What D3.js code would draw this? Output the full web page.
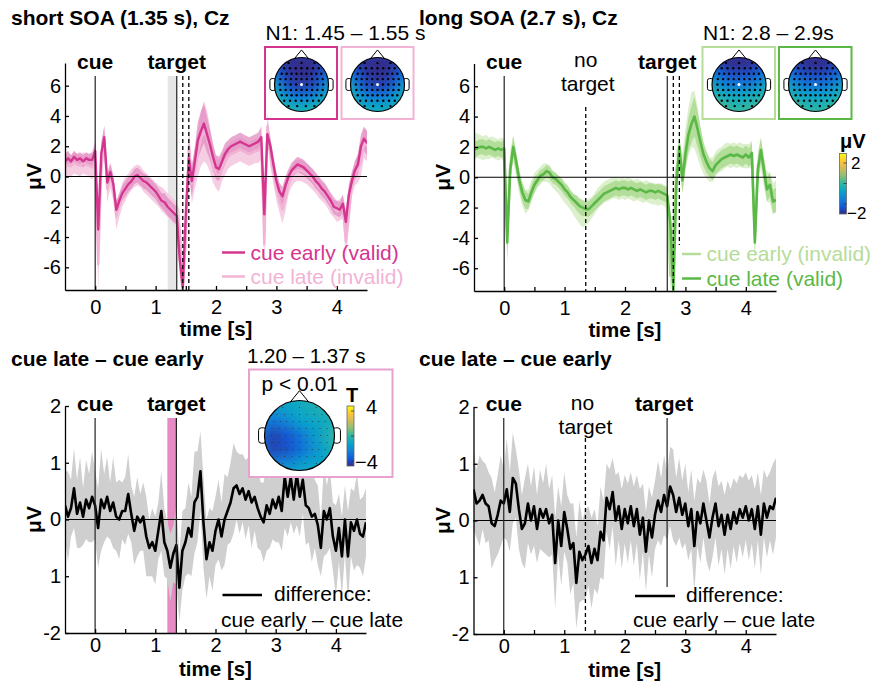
<!DOCTYPE html>
<html>
<head>
<meta charset="utf-8">
<script src="https://d3js.org/d3.v7.min.js"></script>
<style>
  body { margin: 0; background: #fff; }
  svg { display: block; font-family: "Liberation Sans", Arial, Helvetica, sans-serif; }
</style>
</head>
<body>
<svg id="fig" width="873" height="682"></svg>
<script>
// ---- data (sampled every 50 ms from -0.5 s to 4.5 s) ----
const tStart = -0.5
const tStep = 0.05
const times = d3.range(101).map(i => +(tStart + i * tStep).toFixed(2))

// short SOA, Cz (µV)
const shortEarly = [
  1.0, 1.2, 1.0, 1.3, 1.1, 1.2, 1.0, 1.2, 1.1, 1.1,
  1.7, -3.5, 1.5, 2.6, -0.4, 0.3, -0.5, -2.2, -1.6, -1.1,
  -0.8, -0.5, -0.3, 0.0, 0.1, -0.1, -0.3, -0.4, -0.6, -0.8,
  -1.0, -1.3, -1.6, -1.7, -2.0, -2.2, -2.4, -2.6, -5.5, -7.3,
  -2.5, 1.2, -0.3, 1.0, 2.4, 3.0, 3.5, 2.8, 2.1, 1.3,
  0.6, 0.5, 1.0, 1.5, 1.8, 2.0, 2.1, 2.2, 2.3, 2.2,
  2.1, 2.0, 2.1, 2.2, 2.3, 2.6, -2.5, 2.8, 2.0, 0.8,
  -0.3, -1.0, -1.3, -0.6, 0.0, 0.4, 0.6, 0.8, 0.7, 0.6,
  0.4, 0.2, 0.0, -0.3, -0.5, -0.8, -1.0, -1.3, -1.6, -2.0,
  -2.1, -2.2, -1.8, -3.0, -1.2, -0.3, 0.4, 0.8, 2.0, 2.5,
  2.2
]
const shortEarlyCI = [
  0.5, 0.5, 0.4, 0.4, 0.4, 0.4, 0.4, 0.4, 0.4, 0.5,
  0.6, 1.5, 0.8, 0.7, 0.6, 0.6, 0.6, 0.6, 0.5, 0.5,
  0.5, 0.5, 0.5, 0.5, 0.5, 0.5, 0.5, 0.5, 0.5, 0.5,
  0.5, 0.5, 0.5, 0.6, 0.6, 0.6, 0.6, 0.6, 1.0, 1.0,
  1.2, 1.2, 1.0, 1.0, 1.2, 1.3, 1.3, 1.2, 1.0, 0.9,
  0.8, 0.8, 0.7, 0.7, 0.6, 0.6, 0.6, 0.6, 0.6, 0.6,
  0.6, 0.6, 0.6, 0.6, 0.6, 0.7, 1.2, 0.8, 0.6, 0.6,
  0.6, 0.6, 0.6, 0.6, 0.5, 0.5, 0.5, 0.5, 0.5, 0.5,
  0.5, 0.5, 0.5, 0.5, 0.5, 0.5, 0.5, 0.5, 0.5, 0.5,
  0.5, 0.5, 0.6, 0.8, 0.7, 0.6, 0.6, 0.7, 0.8, 0.8,
  0.8
]
const shortLate = [
  0.6, 0.8, 0.7, 0.9, 0.8, 0.7, 0.9, 0.8, 0.7, 0.6,
  1.0, -5.8, 0.5, 2.5, -0.8, 0.0, -0.8, -2.6, -1.9, -1.2,
  -0.8, -0.5, -0.2, 0.0, 0.1, 0.0, -0.3, -0.5, -0.7, -0.9,
  -1.1, -1.3, -1.5, -1.7, -1.9, -2.1, -2.3, -2.5, -3.5, -7.4,
  -4.0, 2.0, -0.5, 0.5, 1.5, 2.5, 3.0, 2.6, 1.8, 0.8,
  0.2, 0.0, 0.6, 1.0, 1.3, 1.5, 1.6, 1.7, 1.8, 1.7,
  1.6, 1.5, 1.6, 1.7, 1.7, 2.0, -4.5, 3.3, 1.5, 0.3,
  -0.8, -1.6, -2.2, -1.5, -0.5, 0.0, 0.3, 0.4, 0.4, 0.3,
  0.2, 0.0, -0.2, -0.4, -0.7, -0.9, -1.1, -1.4, -1.8, -2.0,
  -2.3, -2.2, -2.0, -4.3, -2.5, -0.5, 0.2, 0.5, 1.0, 2.2,
  2.0
]
const shortLateCI = [
  0.8, 0.8, 0.7, 0.7, 0.7, 0.7, 0.7, 0.7, 0.7, 0.8,
  0.9, 1.8, 1.0, 0.9, 0.9, 0.8, 0.8, 0.9, 0.8, 0.8,
  0.8, 0.7, 0.7, 0.7, 0.7, 0.7, 0.7, 0.7, 0.7, 0.7,
  0.7, 0.7, 0.8, 0.8, 0.8, 0.8, 0.8, 0.8, 1.2, 1.2,
  1.5, 1.5, 1.3, 1.3, 1.5, 1.8, 2.0, 1.8, 1.5, 1.2,
  1.0, 1.0, 0.9, 0.9, 0.8, 0.8, 0.8, 0.8, 0.8, 0.8,
  0.8, 0.8, 0.8, 0.8, 0.8, 0.9, 1.5, 1.0, 0.9, 0.8,
  0.8, 0.8, 0.9, 0.8, 0.7, 0.7, 0.7, 0.7, 0.7, 0.7,
  0.7, 0.7, 0.7, 0.7, 0.7, 0.7, 0.7, 0.7, 0.7, 0.7,
  0.7, 0.7, 0.8, 1.0, 0.9, 0.8, 0.8, 0.9, 1.0, 1.0,
  1.0
]

// long SOA, Cz (µV)
const longEarly = [
  2.0, 2.1, 2.0, 1.9, 2.0, 1.9, 2.0, 1.9, 1.8, 1.9,
  1.8, -3.8, 0.8, 1.9, 0.8, -0.3, -1.1, -1.6, -1.5, -0.9,
  -0.4, -0.1, 0.1, 0.3, 0.3, 0.2, -0.1, -0.3, -0.5, -0.7,
  -1.0, -1.2, -1.5, -1.8, -2.0, -2.3, -2.5, -2.4, -2.2, -2.0,
  -1.7, -1.4, -1.2, -1.0, -0.9, -0.8, -0.7, -0.7, -0.8, -0.7,
  -0.8, -0.7, -0.8, -0.9, -0.8, -0.9, -1.0, -0.9, -1.0, -1.1,
  -1.1, -1.2, -1.1, -1.2, -1.4, -6.5, -4.0, 0.5, 1.5, 0.3,
  1.8, 3.0, 3.8, 3.8, 3.0, 2.0, 1.2, 0.8, 0.5, 0.5,
  0.9, 1.1, 1.2, 1.4, 1.5, 1.4, 1.5, 1.4, 1.5, 1.4,
  1.4, 1.4, 1.5, -4.0, 0.8, 1.6, 0.3, -0.6, -0.7, -1.4,
  -1.2
]
const longEarlyCI = [
  0.9, 0.8, 0.8, 0.8, 0.8, 0.7, 0.7, 0.7, 0.7, 0.7,
  0.8, 1.5, 1.0, 0.9, 0.8, 0.8, 0.8, 0.8, 0.7, 0.7,
  0.7, 0.6, 0.6, 0.6, 0.6, 0.6, 0.6, 0.6, 0.6, 0.7,
  0.7, 0.7, 0.7, 0.7, 0.8, 0.8, 0.8, 0.8, 0.8, 0.7,
  0.7, 0.7, 0.7, 0.7, 0.7, 0.7, 0.7, 0.7, 0.7, 0.7,
  0.7, 0.7, 0.7, 0.7, 0.7, 0.7, 0.7, 0.7, 0.7, 0.7,
  0.7, 0.7, 0.7, 0.7, 0.8, 1.0, 1.5, 1.3, 1.0, 1.2,
  1.4, 1.6, 1.8, 1.9, 1.7, 1.3, 1.0, 0.9, 0.8, 0.8,
  0.8, 0.8, 0.8, 0.8, 0.8, 0.8, 0.8, 0.8, 0.8, 0.8,
  0.8, 0.8, 0.9, 1.2, 1.0, 1.0, 1.0, 1.0, 1.0, 1.0,
  1.0
]
const longLate = [
  1.8, 1.9, 2.0, 2.0, 1.9, 2.0, 1.9, 1.8, 1.9, 1.8,
  1.9, -4.3, 0.5, 2.0, 1.0, -0.2, -1.0, -1.5, -1.6, -1.0,
  -0.5, -0.2, 0.1, 0.2, 0.4, 0.3, 0.0, -0.1, -0.3, -0.5,
  -0.8, -1.0, -1.3, -1.5, -1.7, -1.9, -2.0, -2.1, -2.1, -1.9,
  -1.7, -1.5, -1.3, -1.1, -1.0, -0.9, -0.8, -0.7, -0.8, -0.7,
  -0.7, -0.8, -0.7, -0.8, -0.9, -0.8, -0.9, -1.0, -0.9, -0.9,
  -1.0, -0.9, -1.0, -1.1, -1.2, -3.0, -7.5, -0.5, 2.0, -0.2,
  1.5, 2.8, 3.5, 4.0, 3.2, 2.3, 1.5, 1.0, 0.6, 0.4,
  0.8, 1.0, 1.2, 1.3, 1.4, 1.5, 1.4, 1.5, 1.4, 1.3,
  1.5, 1.3, 1.6, -4.3, 0.5, 1.8, 0.5, -0.8, -0.5, -1.6,
  -1.5
]
const longLateCI = [
  0.6, 0.5, 0.5, 0.5, 0.5, 0.5, 0.5, 0.5, 0.5, 0.5,
  0.6, 1.2, 0.8, 0.7, 0.6, 0.6, 0.6, 0.6, 0.5, 0.5,
  0.5, 0.4, 0.4, 0.4, 0.4, 0.4, 0.4, 0.4, 0.4, 0.4,
  0.4, 0.4, 0.4, 0.4, 0.5, 0.5, 0.5, 0.5, 0.5, 0.5,
  0.5, 0.5, 0.5, 0.5, 0.5, 0.5, 0.5, 0.5, 0.5, 0.5,
  0.5, 0.5, 0.5, 0.5, 0.5, 0.5, 0.5, 0.5, 0.5, 0.5,
  0.5, 0.5, 0.5, 0.5, 0.5, 0.6, 1.0, 1.0, 0.8, 0.9,
  1.0, 1.1, 1.2, 1.3, 1.2, 1.0, 0.8, 0.7, 0.6, 0.6,
  0.6, 0.6, 0.6, 0.6, 0.6, 0.6, 0.6, 0.6, 0.6, 0.6,
  0.6, 0.6, 0.7, 1.0, 0.8, 0.8, 0.8, 0.8, 0.8, 0.8,
  0.8
]

// difference waves (µV)
const diffShort = [
  0.25, 0.05, 0.20, 0.55, 0.10, 0.30, 0.05, 0.35, 0.20, 0.40,
  0.25, -0.15, 0.35, 0.20, 0.40, 0.15, 0.30, 0.05, 0.00, 0.15,
  0.15, 0.45, 0.10, -0.20, 0.05, -0.05, 0.05, -0.30, -0.50, -0.40,
  -0.55, -0.20, 0.15, -0.40, -0.55, -0.85, -0.60, -0.45, -1.20, -0.55,
  -0.40, -0.15, -0.30, 0.30, 0.40, 0.85, -0.05, -0.70, -0.40, -0.55,
  -0.20, 0.00, -0.30, 0.00, 0.15, 0.30, 0.55, 0.60, 0.45, 0.55,
  0.35, 0.50, 0.30, 0.40, 0.20, 0.05, -0.05, 0.25, 0.10, 0.35,
  0.20, 0.40, 0.15, 0.75, 0.40, 0.75, 0.35, 0.80, 0.40, 0.70,
  0.25, 0.20, 0.05, 0.10, -0.10, -0.50, 0.15, 0.00, 0.20, -0.30,
  -0.55, -0.15, -0.65, 0.00, -0.65, -0.05, -0.20, 0.00, -0.25, -0.30,
  -0.05
]
const diffShortCI = [
  0.6, 0.8, 0.5, 0.7, 0.6, 0.8, 0.5, 0.7, 0.6, 0.8,
  0.6, 0.7, 0.9, 0.6, 0.7, 0.5, 0.8, 0.6, 0.7, 0.5,
  0.6, 0.7, 0.5, 0.6, 0.7, 0.5, 0.6, 0.7, 0.5, 0.6,
  0.6, 0.5, 0.7, 0.6, 0.5, 0.6, 0.5, 0.7, 0.6, 0.7,
  0.6, 0.8, 0.7, 0.9, 0.8, 0.7, 0.8, 0.7, 0.6, 0.7,
  0.6, 0.7, 0.6, 0.8, 0.6, 0.7, 0.8, 0.6, 0.7, 0.6,
  0.7, 0.6, 0.8, 0.6, 0.7, 0.6, 0.7, 0.8, 0.6, 0.7,
  0.6, 0.8, 0.7, 0.9, 0.7, 0.8, 0.6, 0.9, 0.7, 0.6,
  0.7, 0.6, 0.8, 0.6, 0.7, 0.5, 0.8, 0.6, 0.7, 0.6,
  0.8, 0.6, 0.7, 0.6, 0.8, 0.6, 0.7, 0.8, 0.6, 0.7,
  0.6
]
const diffLong = [
  0.55, 0.30, 0.35, 0.45, 0.30, 0.25, -0.05, -0.10, 0.10, 0.35,
  0.30, 0.55, 0.15, 0.75, 0.65, 0.20, -0.15, -0.05, 0.30, 0.00,
  0.25, -0.15, 0.20, 0.05, 0.20, -0.05, 0.10, -0.75, 0.00, -0.45,
  0.15, -0.15, -0.50, -0.40, -1.10, -0.55, -0.70, -0.60, -0.45, -0.75,
  -0.50, -0.70, -0.20, -0.35, 0.40, 0.20, 0.50, 0.00, 0.25, -0.15,
  0.20, -0.05, 0.25, -0.10, 0.20, -0.25, 0.05, -0.55, 0.00, -0.30,
  0.10, 0.35, 0.15, 0.45, 0.25, 0.60, 0.45, 0.15, 0.40, 0.10,
  0.30, -0.10, 0.20, -0.45, 0.15, -0.05, 0.30, 0.00, -0.30, 0.05,
  0.30, -0.10, 0.10, -0.25, 0.10, -0.15, 0.15, -0.05, 0.20, 0.05,
  0.25, 0.00, 0.20, -0.15, 0.25, -0.25, 0.30, 0.05, 0.25, 0.20,
  0.40
]
const diffLongCI = [
  0.7, 0.6, 0.8, 0.6, 0.7, 0.6, 0.8, 0.6, 0.7, 0.8,
  0.6, 0.9, 0.7, 0.8, 0.6, 0.7, 0.6, 0.8, 0.7, 0.6,
  0.7, 0.6, 0.7, 0.6, 0.8, 0.6, 0.7, 0.8, 0.6, 0.7,
  0.7, 0.6, 0.8, 0.7, 0.8, 0.9, 0.7, 0.8, 0.7, 0.8,
  0.7, 0.6, 0.8, 0.7, 0.6, 0.7, 0.6, 0.8, 0.6, 0.7,
  0.6, 0.7, 0.6, 0.7, 0.6, 0.8, 0.6, 0.7, 0.6, 0.7,
  0.6, 0.7, 0.6, 0.7, 0.6, 0.7, 0.8, 0.6, 0.7, 0.6,
  0.7, 0.6, 0.7, 0.8, 0.6, 0.7, 0.6, 0.7, 0.6, 0.7,
  0.6, 0.7, 0.6, 0.7, 0.6, 0.7, 0.6, 0.7, 0.6, 0.7,
  0.6, 0.7, 0.6, 0.7, 0.6, 0.7, 0.6, 0.7, 0.6, 0.8,
  0.7
]

// event times (s)
const shortEvents = [0, 1.35]
const shortN1 = [1.45, 1.55]
const shortBaseline = [1.2, 1.35]
const longEvents = [0, 2.7]
const longNoTarget = 1.35
const longN1 = [2.8, 2.9]
const clusterWindow = [1.2, 1.36]

// axis ticks
const xDomain = [-0.5, 4.5]
const xTicks = [0, 0.5, 1, 1.5, 2, 2.5, 3, 3.5, 4]
const erpTicks = [-6, -4, -2, 0, 2, 4, 6]
const erpTickLabels = ['-6', '-4', '2', '0', '2', '4', '6']
const diffTicks = [-2, -1, 0, 1, 2]
const diffTickLabels = ['-2', '1', '0', '1', '2']

// topographies, normalised colour position (front row first)
const topoShortEarly = [
  [0.12, 0.07, 0.04, 0.04, 0.04, 0.07, 0.12],
  [0.18, 0.06, 0.01, 0.00, 0.01, 0.06, 0.18],
  [0.30, 0.10, 0.02, 0.01, 0.02, 0.10, 0.28],
  [0.48, 0.22, 0.07, 0.04, 0.07, 0.20, 0.44],
  [0.52, 0.36, 0.22, 0.18, 0.22, 0.34, 0.48],
  [0.52, 0.46, 0.41, 0.39, 0.41, 0.45, 0.50],
  [0.52, 0.50, 0.48, 0.48, 0.48, 0.49, 0.51]
]
const topoShortLate = [
  [0.12, 0.07, 0.04, 0.04, 0.04, 0.07, 0.12],
  [0.18, 0.06, 0.01, 0.00, 0.01, 0.06, 0.18],
  [0.32, 0.11, 0.03, 0.02, 0.03, 0.11, 0.30],
  [0.48, 0.23, 0.08, 0.05, 0.08, 0.22, 0.46],
  [0.50, 0.35, 0.22, 0.19, 0.22, 0.35, 0.48],
  [0.50, 0.43, 0.38, 0.37, 0.38, 0.43, 0.48],
  [0.50, 0.48, 0.45, 0.45, 0.45, 0.47, 0.49]
]
const topoLongEarly = [
  [0.12, 0.06, 0.03, 0.03, 0.03, 0.06, 0.12],
  [0.20, 0.08, 0.01, 0.00, 0.01, 0.08, 0.20],
  [0.32, 0.17, 0.10, 0.09, 0.10, 0.17, 0.32],
  [0.44, 0.31, 0.24, 0.22, 0.24, 0.31, 0.44],
  [0.50, 0.44, 0.40, 0.39, 0.40, 0.44, 0.50],
  [0.60, 0.54, 0.49, 0.47, 0.49, 0.52, 0.56],
  [0.64, 0.59, 0.54, 0.52, 0.54, 0.56, 0.58]
]
const topoLongLate = [
  [0.12, 0.06, 0.03, 0.03, 0.03, 0.06, 0.12],
  [0.20, 0.08, 0.01, 0.00, 0.01, 0.08, 0.20],
  [0.30, 0.15, 0.09, 0.08, 0.09, 0.15, 0.30],
  [0.42, 0.29, 0.22, 0.19, 0.22, 0.29, 0.42],
  [0.48, 0.42, 0.37, 0.36, 0.37, 0.42, 0.48],
  [0.56, 0.51, 0.47, 0.46, 0.47, 0.50, 0.54],
  [0.60, 0.56, 0.52, 0.51, 0.52, 0.54, 0.57]
]
const topoDiffT = [
  [0.39, 0.39, 0.41, 0.43, 0.45, 0.50, 0.48],
  [0.37, 0.33, 0.36, 0.40, 0.43, 0.47, 0.50],
  [0.31, 0.20, 0.26, 0.36, 0.38, 0.41, 0.48],
  [0.22, 0.06, 0.11, 0.20, 0.33, 0.43, 0.55],
  [0.22, 0.06, 0.09, 0.17, 0.30, 0.40, 0.50],
  [0.31, 0.24, 0.26, 0.33, 0.36, 0.38, 0.43],
  [0.39, 0.39, 0.37, 0.41, 0.43, 0.41, 0.40]
]

// ---- colours ----
const pinkDark = '#d4358f'
const pinkLight = '#f2b3d5'
const greenDark = '#5ab847'
const greenLight = '#b6dc99'
const parulaStops = ['#352a87', '#0f5cdd', '#1481d6', '#06a4ca', '#2eb7a4', '#87bf77', '#d1bb59', '#fec832', '#f9fb0e']
const parula = d3.scaleLinear()
  .domain(parulaStops.map((c, i) => i / (parulaStops.length - 1)))
  .range(parulaStops)
  .clamp(true)

const svg = d3.select('#fig')
const defs = svg.append('defs')

const grad = defs.append('linearGradient')
  .attr('id', 'parulaGrad')
  .attr('x1', 0).attr('y1', 1).attr('x2', 0).attr('y2', 0)
parulaStops.forEach((c, i) => grad.append('stop').attr('offset', i / (parulaStops.length - 1)).attr('stop-color', c))

const addBlur = (id, sd) => {
  defs.append('filter').attr('id', id)
    .attr('x', '-10%').attr('y', '-10%').attr('width', '120%').attr('height', '120%')
    .attr('color-interpolation-filters', 'sRGB')
    .append('feGaussianBlur').attr('stdDeviation', sd).attr('edgeMode', 'duplicate')
}
addBlur('blurSmall', 4)
addBlur('blurBig', 5.5)

const label = (x, y, txt, { size = 21, bold = false, anchor = 'start', fill = '#000', rotate = 0 } = {}) => {
  const t = svg.append('text')
    .attr('x', x).attr('y', y)
    .attr('font-size', size)
    .attr('font-weight', bold ? 'bold' : 'normal')
    .attr('text-anchor', anchor)
    .attr('fill', fill)
    .text(txt)
  if (rotate) t.attr('transform', `rotate(${rotate},${x},${y})`)
  return t
}

// ---- one ERP panel ----
const drawPanel = (p) => {
  const x = d3.scaleLinear().domain(xDomain).range([p.left, p.right])
  const y = d3.scaleLinear().domain(p.yDomain).range([p.bottom, p.top])
  const g = svg.append('g')

  defs.append('clipPath').attr('id', `clip-${p.id}`)
    .append('rect')
    .attr('x', p.left).attr('y', p.top)
    .attr('width', p.right - p.left).attr('height', p.bottom - p.top)
  const plot = g.append('g').attr('clip-path', `url(#clip-${p.id})`)

  if (p.shade) {
    plot.append('rect')
      .attr('x', x(p.shade.span[0]))
      .attr('width', x(p.shade.span[1]) - x(p.shade.span[0]))
      .attr('y', p.markTop)
      .attr('height', p.bottom - p.markTop)
      .attr('fill', p.shade.fill)
  }

  p.series.forEach(s => {
    const band = d3.area()
      .x((d, i) => x(times[i]))
      .y0((d, i) => y(d - s.ci[i]))
      .y1((d, i) => y(d + s.ci[i]))
    plot.append('path').datum(s.mean)
      .attr('d', band)
      .attr('fill', s.band)
      .attr('fill-opacity', s.bandOpacity)
  })

  p.series.forEach(s => {
    const line = d3.line().x((d, i) => x(times[i])).y(d => y(d))
    plot.append('path').datum(s.mean)
      .attr('d', line)
      .attr('fill', 'none')
      .attr('stroke', s.color)
      .attr('stroke-width', s.width)
      .attr('stroke-linejoin', 'round')
  })

  g.append('line')
    .attr('x1', p.left).attr('x2', p.right)
    .attr('y1', y(0)).attr('y2', y(0))
    .attr('stroke', '#000').attr('stroke-width', 1.1)

  p.marks.forEach(m => {
    g.append('line')
      .attr('x1', x(m.t)).attr('x2', x(m.t))
      .attr('y1', m.top).attr('y2', m.bottom || p.bottom)
      .attr('stroke', m.dash ? '#000' : '#222')
      .attr('stroke-width', m.dash ? 1.3 : 1.2)
      .attr('stroke-dasharray', m.dash ? '4,3' : null)
  })

  const xAxis = d3.axisBottom(x)
    .tickValues(xTicks)
    .tickSizeInner(-4).tickSizeOuter(0).tickPadding(p.tickPad)
    .tickFormat(d => Number.isInteger(d) ? d : '')
  const yAxis = d3.axisLeft(y)
    .tickValues(p.yTicks)
    .tickSizeInner(-4).tickSizeOuter(0).tickPadding(4)
    .tickFormat((d, i) => p.yLabels[i])

  const styleAxis = sel => {
    sel.attr('font-size', null).attr('font-family', null)
    sel.selectAll('path, line').attr('stroke', '#000').attr('stroke-width', 1.3)
    sel.selectAll('text').attr('font-size', 20).attr('fill', '#000')
  }
  g.append('g').attr('transform', `translate(0,${p.bottom})`).call(xAxis).call(styleAxis)
  g.append('g').attr('transform', `translate(${p.left},0)`).call(yAxis).call(styleAxis)

  label((p.left + p.right) / 2, p.bottom + p.xLabelGap, 'time [s]', { bold: true, anchor: 'middle', size: 20.5 })
  label(p.left - 24, (p.top + p.bottom) / 2, 'μV', { bold: true, anchor: 'middle', rotate: -90 })

  return x
}

// ---- scalp map ----
const electrodeRows = [[-0.80, 3], [-0.60, 7], [-0.40, 9], [-0.20, 9], [0, 9], [0.20, 9], [0.40, 9], [0.60, 7], [0.80, 4]]
let headCount = 0
const drawHead = (cx, cy, r, grid, { blur, dotR, dotFill, centre }) => {
  const id = `head-${headCount++}`
  defs.append('clipPath').attr('id', id)
    .append('circle').attr('cx', cx).attr('cy', cy).attr('r', r)
  const g = svg.append('g')

  g.append('path')
    .attr('d', `M${cx - 0.26 * r},${cy - 0.96 * r} L${cx},${cy - 1.28 * r} L${cx + 0.26 * r},${cy - 0.96 * r} Z`)
    .attr('fill', '#fff').attr('stroke', '#000').attr('stroke-width', 1)
  ;[-1, 1].forEach(s => {
    g.append('rect')
      .attr('x', s < 0 ? cx - r - 0.17 * r : cx + r - 0.05 * r)
      .attr('y', cy - 0.22 * r)
      .attr('width', 0.22 * r).attr('height', 0.44 * r)
      .attr('rx', 0.08 * r)
      .attr('fill', '#fff').attr('stroke', '#000').attr('stroke-width', 1)
  })

  const span = 1.35 * r
  const n = grid.length
  const cell = (2 * span) / n
  const field = g.append('g').attr('clip-path', `url(#${id})`)
    .append('g').attr('filter', `url(#${blur})`)
  grid.forEach((row, i) => row.forEach((v, j) => {
    field.append('rect')
      .attr('x', cx - span + j * cell).attr('y', cy - span + i * cell)
      .attr('width', cell + 0.6).attr('height', cell + 0.6)
      .attr('fill', parula(v))
  }))

  g.append('circle').attr('cx', cx).attr('cy', cy).attr('r', r)
    .attr('fill', 'none').attr('stroke', '#000').attr('stroke-width', 1.2)

  electrodeRows.forEach(([ry, count]) => {
    const half = Math.sqrt(1 - ry * ry) * 0.8
    d3.range(count).forEach(k => {
      const rx = count === 1 ? 0 : -half + (2 * half * k) / (count - 1)
      const isCentre = centre && ry === 0 && k === (count - 1) / 2
      g.append('circle')
        .attr('cx', cx + rx * r).attr('cy', cy + ry * r)
        .attr('r', isCentre ? dotR + 0.3 : dotR)
        .attr('fill', isCentre ? '#fff' : dotFill)
    })
  })
}

const colorBar = (x, y, w, h) => {
  svg.append('rect').attr('x', x).attr('y', y).attr('width', w).attr('height', h)
    .attr('fill', 'url(#parulaGrad)').attr('stroke', '#666').attr('stroke-width', 0.8)
}

// ---- panel A: short SOA ----
const xA = drawPanel({
  id: 'a', left: 65, right: 367, top: 63, bottom: 290, xLabelGap: 46, tickPad: 10,
  yDomain: [-7.5, 7.5], yTicks: erpTicks, yLabels: erpTickLabels,
  markTop: 76,
  shade: { span: shortBaseline, fill: '#e6e6e6' },
  series: [
    { mean: shortLate, ci: shortLateCI, color: pinkLight, band: '#f5c6df', bandOpacity: 0.85, width: 2.4 },
    { mean: shortEarly, ci: shortEarlyCI, color: pinkDark, band: '#e28cc0', bandOpacity: 0.75, width: 2.4 }
  ],
  marks: [
    { t: shortEvents[0], top: 76 }, { t: shortEvents[1], top: 76 },
    { t: shortN1[0], top: 76, dash: true }, { t: shortN1[1], top: 76, dash: true }
  ]
})
label(11, 25, 'short SOA (1.35 s), Cz', { bold: true })
label(xA(shortEvents[0]), 69, 'cue', { bold: true, anchor: 'middle' })
label(xA(shortEvents[1]), 69, 'target', { bold: true, anchor: 'middle' })
svg.append('line').attr('x1', 222).attr('x2', 245).attr('y1', 252.5).attr('y2', 252.5).attr('stroke', pinkDark).attr('stroke-width', 2.5)
label(250.5, 260, 'cue early (valid)', { fill: pinkDark })
svg.append('line').attr('x1', 222).attr('x2', 245).attr('y1', 276.5).attr('y2', 276.5).attr('stroke', pinkLight).attr('stroke-width', 2.5)
label(250.5, 284, 'cue late (invalid)', { fill: pinkLight })

label(265.5, 40, 'N1: 1.45 – 1.55 s')
svg.append('rect').attr('x', 265).attr('y', 47).attr('width', 72).attr('height', 72).attr('fill', 'none').attr('stroke', pinkDark).attr('stroke-width', 2)
svg.append('rect').attr('x', 341.5).attr('y', 47).attr('width', 72).attr('height', 72).attr('fill', 'none').attr('stroke', pinkLight).attr('stroke-width', 2)
drawHead(301.5, 84.5, 27, topoShortEarly, { blur: 'blurSmall', dotR: 1.2, dotFill: '#000', centre: true })
drawHead(377.5, 84.5, 27, topoShortLate, { blur: 'blurSmall', dotR: 1.2, dotFill: '#000', centre: true })

// ---- panel B: long SOA ----
const xB = drawPanel({
  id: 'b', left: 474, right: 776, top: 63.5, bottom: 291, xLabelGap: 46, tickPad: 10,
  yDomain: [-7.5, 7.5], yTicks: erpTicks, yLabels: erpTickLabels,
  markTop: 76,
  series: [
    { mean: longEarly, ci: longEarlyCI, color: greenLight, band: '#d9eec8', bandOpacity: 0.9, width: 2.4 },
    { mean: longLate, ci: longLateCI, color: greenDark, band: '#9fd585', bandOpacity: 0.7, width: 2.6 }
  ],
  marks: [
    { t: longEvents[0], top: 76 }, { t: longNoTarget, top: 107, dash: true },
    { t: longEvents[1], top: 76 },
    { t: longN1[0], top: 76, dash: true }, { t: longN1[1], top: 76, bottom: 245, dash: true }
  ]
})
label(419, 25, 'long SOA (2.7 s), Cz', { bold: true })
label(xB(longEvents[0]), 69, 'cue', { bold: true, anchor: 'middle' })
label(xB(longNoTarget), 67, 'no', { anchor: 'middle' })
label(xB(longNoTarget) + 2, 91, 'target', { anchor: 'middle' })
label(xB(longEvents[1]), 69, 'target', { bold: true, anchor: 'middle' })
svg.append('line').attr('x1', 682).attr('x2', 701).attr('y1', 254).attr('y2', 254).attr('stroke', greenLight).attr('stroke-width', 2.5)
label(706.5, 261, 'cue early (invalid)', { fill: greenLight })
svg.append('line').attr('x1', 682).attr('x2', 701).attr('y1', 278.5).attr('y2', 278.5).attr('stroke', greenDark).attr('stroke-width', 2.5)
label(706.5, 285.5, 'cue late (valid)', { fill: greenDark })

label(703, 40, 'N1: 2.8 – 2.9s')
svg.append('rect').attr('x', 702.5).attr('y', 47).attr('width', 72.5).attr('height', 72).attr('fill', 'none').attr('stroke', greenLight).attr('stroke-width', 2)
svg.append('rect').attr('x', 779).attr('y', 47).attr('width', 72.5).attr('height', 72).attr('fill', 'none').attr('stroke', greenDark).attr('stroke-width', 2)
drawHead(739, 84.5, 27, topoLongEarly, { blur: 'blurSmall', dotR: 1.2, dotFill: '#000', centre: true })
drawHead(815.5, 84.5, 27, topoLongLate, { blur: 'blurSmall', dotR: 1.2, dotFill: '#000', centre: true })

label(840, 148, 'μV', { bold: true, size: 20 })
colorBar(839.5, 153.5, 7, 60.5)
;[163, 183.5, 204].forEach(ty => svg.append('line').attr('x1', 843.5).attr('x2', 846.5).attr('y1', ty).attr('y2', ty).attr('stroke', '#333').attr('stroke-width', 0.8))
label(851, 169, '2', { size: 17 })
label(847, 219, '−2', { size: 17 })

// ---- panel C: difference, short SOA ----
const xC = drawPanel({
  id: 'c', left: 65, right: 366, top: 406, bottom: 633, xLabelGap: 43, tickPad: 5,
  yDomain: [-2, 2], yTicks: diffTicks, yLabels: diffTickLabels,
  markTop: 418,
  shade: { span: clusterWindow, fill: '#e68bc3' },
  series: [
    { mean: diffShort, ci: diffShortCI, color: '#000', band: '#cfcfcf', bandOpacity: 1, width: 2.6 }
  ],
  marks: [
    { t: shortEvents[0], top: 418 }, { t: shortEvents[1], top: 418 }
  ]
})
label(11, 366, 'cue late – cue early', { bold: true })
label(xC(shortEvents[0]), 410.5, 'cue', { bold: true, anchor: 'middle' })
label(xC(shortEvents[1]), 410.5, 'target', { bold: true, anchor: 'middle' })
svg.append('line').attr('x1', 222.5).attr('x2', 262).attr('y1', 595).attr('y2', 595).attr('stroke', '#000').attr('stroke-width', 2.6)
label(274, 601, 'difference:')
label(221, 627, 'cue early – cue late')

label(247, 363, '1.20 – 1.37 s', { size: 20.5 })
svg.append('rect').attr('x', 249).attr('y', 369.5).attr('width', 143.5).attr('height', 107.5).attr('fill', '#fff').attr('stroke', '#e9a1cf').attr('stroke-width', 2)
label(261.5, 390.5, 'p < 0.01')
drawHead(299.5, 435.5, 35, topoDiffT, { blur: 'blurBig', dotR: 0.55, dotFill: '#333', centre: false })
label(346, 401.5, 'T', { bold: true, size: 20 })
colorBar(347, 406, 7, 60)
;[411, 436, 461].forEach(ty => svg.append('line').attr('x1', 351).attr('x2', 354).attr('y1', ty).attr('y2', ty).attr('stroke', '#333').attr('stroke-width', 0.8))
label(366, 414, '4', { size: 20 })
label(355, 469, '−4', { size: 20 })

// ---- panel D: difference, long SOA ----
const xD = drawPanel({
  id: 'd', left: 473.5, right: 776, top: 407, bottom: 634, xLabelGap: 43, tickPad: 5,
  yDomain: [-2, 2], yTicks: diffTicks, yLabels: diffTickLabels,
  markTop: 418,
  series: [
    { mean: diffLong, ci: diffLongCI, color: '#000', band: '#cfcfcf', bandOpacity: 1, width: 2.6 }
  ],
  marks: [
    { t: longEvents[0], top: 418 }, { t: longNoTarget, top: 438, dash: true },
    { t: longEvents[1], top: 418, bottom: 587 }
  ]
})
label(419, 366, 'cue late – cue early', { bold: true })
label(xD(longEvents[0]), 410.5, 'cue', { bold: true, anchor: 'middle' })
label(xD(longNoTarget) - 3, 410, 'no', { anchor: 'middle' })
label(xD(longNoTarget), 434, 'target', { anchor: 'middle' })
label(xD(longEvents[1]) - 3, 410.5, 'target', { bold: true, anchor: 'middle' })
svg.append('line').attr('x1', 635).attr('x2', 675).attr('y1', 596).attr('y2', 596).attr('stroke', '#000').attr('stroke-width', 2.6)
label(686, 602, 'difference:')
label(633, 627, 'cue early – cue late')
</script>
</body>
</html>
